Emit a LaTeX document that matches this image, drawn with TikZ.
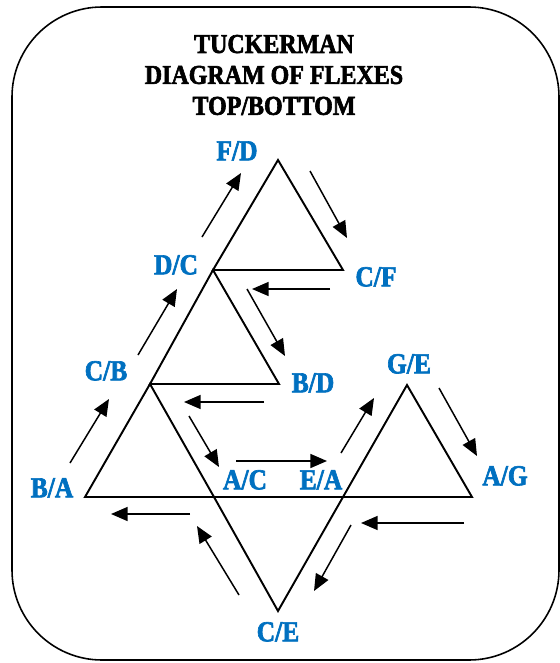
\documentclass[tikz,border=0pt]{standalone}
\usepackage{fontspec}
\usepackage{xcolor}
\usepackage{tikz}
\usetikzlibrary{arrows.meta}

\newfontfamily\stencilfont{Liberation Serif}[FakeStretch=0.88, BoldFeatures={FakeBold=2.2}]
\definecolor{flexblue}{RGB}{0,112,192}

\begin{document}
\begin{tikzpicture}[x=0.02cm, y=-0.02cm,
        flexline/.style={black, line width=1.1pt, line join=miter},
        flexarrow/.style={black, line width=0.85pt, -{Triangle[length=9.5pt, width=8pt]}},
        flexlabel/.style={text=flexblue, inner sep=0pt, text height=10.6pt, text depth=0pt,
            font=\stencilfont\bfseries\fontsize{16.5}{18}\selectfont}]

        \useasboundingbox (0,0) rectangle (560,663);

        % Outer frame
        \draw[line width=0.9pt, rounded corners=1.8cm] (12,7) rectangle (559,660);

        % Title
        \node[align=center, inner sep=0pt,
              font=\stencilfont\bfseries\fontsize{15.5}{17.6}\selectfont] (title) at (274,75)
            {TUCKERMAN\\DIAGRAM OF FLEXES\\TOP/BOTTOM};

        % Corners of the triangles
        \foreach \name/\x/\y in {p1/85/497, p2/214/497, p3/343/497, p4/472/497,
                                 q1/150/384, q2/279/384, q3/407/385,
                                 r1/213/270, r2/343/270, s1/278/160, c1/278/611}{
            \coordinate (\name) at (\x,\y);
        }

        % Draw the triangles
        \draw[flexline] (s1) -- (r1) -- (r2) -- cycle;
        \draw[flexline] (r1) -- (q1) -- (q2) -- cycle;
        \draw[flexline] (q1) -- (p1) -- (p2) -- cycle;
        \draw[flexline] (p1) -- (p4);
        \draw[flexline] (p2) -- (c1) -- (p3);
        \draw[flexline] (q3) -- (p3) -- (p4) -- cycle;

        % Top/bottom faces at each corner
        \foreach \name/\x/\y/\txt in {FD/237/151/{F/D}, DC/176/265/{D/C}, CB/106/371/{C/B},
                                      BA/52/488/{B/A}, AC/245/480/{A/C}, EA/321/480/{E/A},
                                      GE/409/364/{G/E}, BD/313/383/{B/D}, AG/505/476/{A/G},
                                      CF/376/277/{C/F}, CE/278/632/{C/E}}{
            \node[flexlabel] (face-\name) at (\x,\y) {\txt};
        }

        % Flex arrows
        \foreach[count=\i] \ax/\ay/\bx/\by in {
            70/463/109/399,   % B/A to C/B
            138/355/177/289,  % C/B to D/C
            202/237/241/173,  % D/C to F/D
            310/171/347/238,  % F/D to C/F
            330/289/252/289,
            247/289/285/356,  % to B/D
            264/402/184/402,
            189/416/219/467,  % to A/C
            236/461/327/461,  % A/C to E/A
            341/453/374/398,  % E/A to G/E
            439/388/477/456,  % G/E to A/G
            464/523/361/523,
            351/525/314/591,  % to C/E
            239/595/197/526,
            190/514/111/514   % back to B/A
        }{
            \coordinate (tail-\i) at (\ax,\ay);
            \coordinate (tip-\i) at (\bx,\by);
            \draw[flexarrow] (tail-\i) -- (tip-\i);
        }
    \end{tikzpicture}
\end{document}
